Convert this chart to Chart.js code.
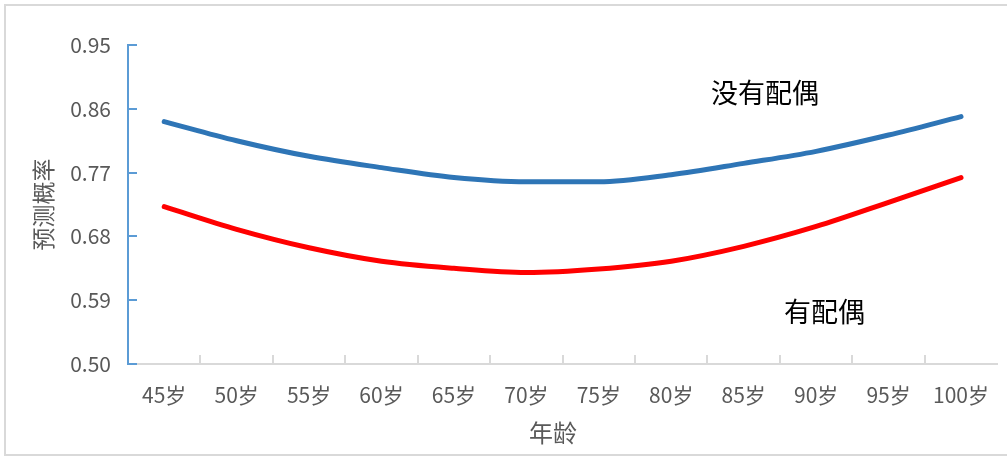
<!DOCTYPE html>
<html>
<head>
<meta charset="utf-8">
<script src="https://cdn.jsdelivr.net/npm/chart.js@4.4.1/dist/chart.umd.min.js"></script>
<style>
  html, body { margin: 0; padding: 0; background: #fff; }
  #wrap { width: 1007px; height: 457px; position: relative; }
</style>
</head>
<body>
<div id="wrap"><canvas id="chart"></canvas></div>
<script>
const categories = ["45岁", "50岁", "55岁", "60岁", "65岁", "70岁", "75岁", "80岁", "85岁", "90岁", "95岁", "100岁"];
const noSpouse = [0.842, 0.815, 0.793, 0.777, 0.763, 0.757, 0.757, 0.767, 0.783, 0.800, 0.823, 0.849];
const withSpouse = [0.722, 0.690, 0.664, 0.645, 0.635, 0.629, 0.634, 0.645, 0.666, 0.694, 0.728, 0.763];
const yTicks = [0.50, 0.59, 0.68, 0.77, 0.86, 0.95];

const FONT = "'Noto Sans CJK SC', 'Noto Sans', sans-serif";
const GREY = "#595959";

// border, inward tick marks, x title and series labels
const extras = {
  id: "extras",
  beforeDraw(chart) {
    const ctx = chart.ctx;
    ctx.save();
    ctx.strokeStyle = "#D9D9D9";
    ctx.lineWidth = 2;
    ctx.strokeRect(5, 5, 1010, 450);
    ctx.restore();
  },
  afterDatasetsDraw(chart) {
    const ctx = chart.ctx;
    const x = chart.scales.x, y = chart.scales.y;
    const area = chart.chartArea;
    ctx.save();
    ctx.lineWidth = 2;
    ctx.strokeStyle = "#5B9BD5";
    yTicks.forEach((v) => {
      const py = Math.round(y.getPixelForValue(v));
      ctx.beginPath();
      ctx.moveTo(area.left, py);
      ctx.lineTo(area.left + 9, py);
      ctx.stroke();
    });
    ctx.strokeStyle = "#D9D9D9";
    const step = x.getPixelForValue(1) - x.getPixelForValue(0);
    for (let i = 1; i < categories.length; i++) {
      const px = Math.round(x.getPixelForValue(i) - step / 2);
      ctx.beginPath();
      ctx.moveTo(px, area.bottom);
      ctx.lineTo(px, area.bottom - 9);
      ctx.stroke();
    }
    ctx.fillStyle = GREY;
    ctx.font = "24px " + FONT;
    ctx.textAlign = "center";
    ctx.textBaseline = "middle";
    ctx.fillText("年龄", 553, 433);
    ctx.fillStyle = "#000";
    ctx.font = "27px " + FONT;
    ctx.textAlign = "left";
    ctx.fillText("没有配偶", 711, 93);
    ctx.fillText("有配偶", 784, 312);
    ctx.restore();
  }
};

new Chart(document.getElementById("chart"), {
  type: "line",
  data: {
    labels: categories,
    datasets: [
      { label: "没有配偶", data: noSpouse, borderColor: "#2E75B6", borderWidth: 5 },
      { label: "有配偶", data: withSpouse, borderColor: "#FF0000", borderWidth: 5 }
    ]
  },
  options: {
    responsive: true,
    maintainAspectRatio: false,
    animation: false,
    layout: { padding: { top: 45, left: 0, right: 0, bottom: 0 } },
    elements: {
      point: { radius: 0 },
      line: { tension: 0.4, cubicInterpolationMode: "monotone", borderCapStyle: "round" }
    },
    plugins: { legend: { display: false }, tooltip: { enabled: false } },
    scales: {
      x: {
        offset: true,
        grid: { display: false, drawTicks: false },
        border: { display: true, color: "#D9D9D9", width: 2 },
        ticks: { color: GREY, font: { family: FONT, size: 21 }, padding: 18, maxRotation: 0, autoSkip: false },
        afterFit: (s) => { s.height = 457 - 364; }
      },
      y: {
        min: 0.5,
        max: 0.95,
        grid: { display: false, drawTicks: false },
        border: { display: true, color: "#5B9BD5", width: 2 },
        afterBuildTicks: (s) => { s.ticks = yTicks.map((v) => ({ value: v })); },
        ticks: {
          color: GREY,
          font: { family: FONT, size: 21 },
          padding: 17,
          callback: (v) => Number(v).toFixed(2)
        },
        title: {
          display: true,
          text: "预测概率",
          color: GREY,
          font: { family: FONT, size: 23 },
          padding: { top: 29, bottom: 0 }
        },
        afterFit: (s) => { s.width = 128; }
      }
    }
  },
  plugins: [extras]
});
</script>
</body>
</html>
